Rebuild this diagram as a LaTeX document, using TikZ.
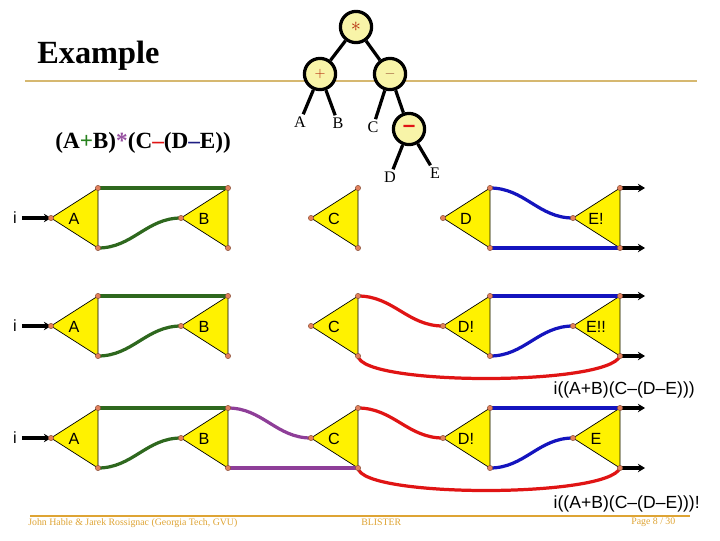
\documentclass[tikz,border=0pt]{standalone}
\usepackage{fontspec}
\setmainfont{Liberation Serif}
\setsansfont{Liberation Sans}
\usepackage{tikz}
\usetikzlibrary{arrows.meta}

\definecolor{tanline}{RGB}{214,184,112}
\definecolor{footgold}{RGB}{222,164,52}
\definecolor{wgreen}{RGB}{46,104,30}
\definecolor{wblue}{RGB}{20,20,190}
\definecolor{wred}{RGB}{224,20,20}
\definecolor{wpurple}{RGB}{142,62,152}
\definecolor{exgreen}{RGB}{40,130,30}
\definecolor{expurple}{RGB}{150,80,160}
\definecolor{exblue}{RGB}{30,30,130}
\definecolor{dotcol}{RGB}{226,128,92}
\definecolor{opfill}{RGB}{248,244,168}
\definecolor{opred}{RGB}{180,40,10}
\definecolor{opbrown}{RGB}{150,80,50}

\begin{document}
\begin{tikzpicture}[x=0.025cm,y=-0.025cm,>={Stealth[length=5pt,width=6pt]},
    gate/.style={fill=yellow,draw=black,line width=0.5pt,line join=round},
    glabel/.style={font=\sffamily\fontsize{11.5}{12}\selectfont},
    wire/.style={line width=2.3pt},
    stub/.style={->,line width=2.3pt},
    dot/.style={fill=dotcol,draw=dotcol!60!black,line width=0.3pt},
    opnode/.style={circle,draw=black,line width=2.3pt,fill=opfill,minimum size=0.78cm,inner sep=0pt},
    leaf/.style={font=\fontsize{11.5}{12}\selectfont,inner sep=1.5pt},
    branch/.style={line width=2.3pt},
    foot/.style={font=\fontsize{7}{8}\selectfont,text=footgold,anchor=base west,inner sep=0pt}]
  \useasboundingbox (0,0) rectangle (720,540);

  \draw[tanline,line width=2pt] (25,81) -- (697,81);
  \draw[footgold,line width=1.5pt] (30,516) -- (690,516);

  \node[anchor=base west,inner sep=0pt,font=\bfseries\fontsize{23}{24}\selectfont] (title) at (37,63) {Example};
  \node[anchor=base west,inner sep=0pt,font=\bfseries\fontsize{16.5}{18}\selectfont] (expr) at (55,148)
    {(A{\color{exgreen}+}B){\color{expurple}*}(C{\color{wred}–}(D{\color{exblue}–}E))};

  \node[opnode] (times) at (356,27) {\color{opred}\fontsize{14}{14}\selectfont$\ast$};
  \node[opnode] (plus) at (320,74) {\color{opred}$+$};
  \node[opnode] (minus) at (390,74) {\color{opbrown}$-$};
  \node[opnode] (minusb) at (409,129) {\color{wred}\sffamily\bfseries\fontsize{16}{16}\selectfont –};
  \node[leaf] (lA) at (300,122) {A};
  \node[leaf] (lB) at (338,123) {B};
  \node[leaf] (lC) at (373,127) {C};
  \node[leaf] (lD) at (390,177) {D};
  \node[leaf] (lE) at (435,173) {E};
  \path[branch]
    (times) edge (plus) edge (minus)
    (plus) edge (lA) edge (lB)
    (minus) edge (lC) edge (minusb)
    (minusb) edge (lD) edge (lE);

  \foreach \r/\y/\d/\e in {1/218/D/E!,2/326/D!/E!!,3/438/D!/E} {
    \node[glabel] (i\r) at (15,\y) {i};
    \coordinate (o\r-u) at (645,\y-30);
    \coordinate (o\r-l) at (645,\y+30);
    \foreach \g/\x/\t in {A/51/A,B/181/B,C/311/C,D/443/\d,E/573/\e} {
      \coordinate (\g\r-t) at (\x,\y);
      \coordinate (\g\r-u) at (\x+47,\y-30);
      \coordinate (\g\r-l) at (\x+47,\y+30);
      \filldraw[gate] (\g\r-t) -- (\g\r-u) -- (\g\r-l) -- cycle;
      \node[glabel] (\g\r) at (\x+23,\y+1) {\t};
    }
  }

  \foreach \r in {1,2,3} {
    \draw[wire,wgreen] (A\r-u) -- (B\r-u);
    \draw[wire,wgreen] (A\r-l) to[out=0,in=180] (B\r-t);
    \draw[stub] (i\r) -- (A\r-t);
    \draw[stub] (E\r-u) -- (o\r-u);
    \draw[stub] (E\r-l) -- (o\r-l);
  }
  \draw[wire,wblue] (D1-u) to[out=0,in=180] (E1-t);
  \draw[wire,wblue] (D1-l) -- (E1-l);
  \foreach \r in {2,3} {
    \draw[wire,wred] (C\r-u) to[out=0,in=180] (D\r-t);
    \draw[wire,wred] (C\r-l) .. controls +(4,30) and +(-12,30) .. (E\r-l);
    \draw[wire,wblue] (D\r-u) -- (E\r-u);
    \draw[wire,wblue] (D\r-l) to[out=0,in=180] (E\r-t);
  }
  \draw[wire,wpurple] (B3-u) to[out=0,in=180] (C3-t);
  \draw[wire,wpurple] (B3-l) -- (C3-l);

  \foreach \r in {1,2,3}
    \foreach \g in {A,B,C,D,E}
      \foreach \c in {t,u,l}
        \filldraw[dot] (\g\r-\c) circle (1.9pt);

  \node[anchor=base east,inner sep=0pt,font=\sffamily\fontsize{12.5}{13}\selectfont] (res2) at (695,394) {i((A+B)(C–(D–E)))};
  \node[anchor=base east,inner sep=0pt,font=\sffamily\fontsize{12.5}{13}\selectfont] (res3) at (700,508) {i((A+B)(C–(D–E)))!};

  \node[foot] (authors) at (28,525) {John Hable \& Jarek Rossignac (Georgia Tech, GVU)};
  \node[foot] (proj) at (361,525) {BLISTER};
  \node[foot] (page) at (631,524) {Page 8 / 30};
\end{tikzpicture}
\end{document}
